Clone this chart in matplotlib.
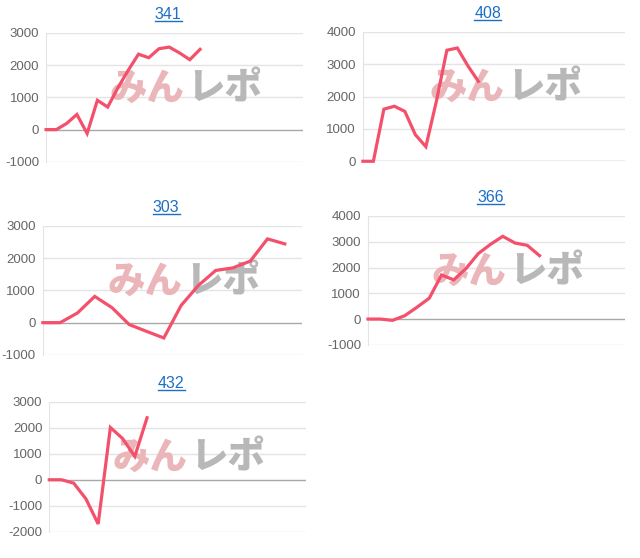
import numpy as np
import matplotlib
matplotlib.use('Agg')
import matplotlib.pyplot as plt
from matplotlib.lines import Line2D

plt.rcParams['font.family'] = ['Liberation Sans', 'DejaVu Sans']

# data
titles = ['341', '408', '303', '366', '432']
vals_341 = [0, 0, 190, 470, -120, 910, 700, 1300, 1840, 2340, 2230, 2510, 2560, 2380, 2170, 2490]
vals_408 = [0, 0, 1610, 1700, 1540, 820, 450, 1850, 3430, 3500, 2950, 2470]
vals_303 = [0, 0, 300, 815, 465, -60, -270, -475, 535, 1155, 1620, 1700, 1910, 2600, 2445]
vals_366 = [0, 0, -50, 130, 460, 810, 1710, 1520, 1960, 2540, 2900, 3210, 2950, 2860, 2460]
vals_432 = [0, 0, -130, -735, -1700, 2010, 1585, 900, 2385]
series = [vals_341, vals_408, vals_303, vals_366, vals_432]

y_ranges = [(-1000, 3000), (0, 4000), (-1000, 3000), (-1000, 4000), (-2000, 3000)]
x_ranges = [(0, 25), (0, 25), (0, 15), (0, 21), (0, 21)]

# axes boxes in figure fractions [left, bottom, width, height]
boxes = [
    [0.072, 0.710, 0.401, 0.231],
    [0.567, 0.711, 0.410, 0.232],
    [0.067, 0.364, 0.405, 0.231],
    [0.575, 0.382, 0.402, 0.231],
    [0.077, 0.047, 0.401, 0.233],
]

line_color = '#f4506b'
title_color = '#1c6fc6'

fig = plt.figure(figsize=(6.4, 5.58), dpi=100)

title_texts = []
for name, vals, yr, xr, box in zip(titles, series, y_ranges, x_ranges, boxes):
    ax = fig.add_axes(box)
    ax.set_xlim(*xr)
    ax.set_ylim(*yr)
    ticks = np.arange(yr[0], yr[1] + 1, 1000)
    ax.set_yticks(ticks)
    ax.set_yticklabels([str(t) for t in ticks])
    ax.set_xticks([])
    for s in ['top', 'right', 'bottom']:
        ax.spines[s].set_visible(False)
    ax.spines['left'].set_color('#e4e4e4')
    ax.tick_params(axis='y', length=0, pad=5, labelsize=9.5, labelcolor='#666666')
    for t in ticks:
        ax.axhline(t, color='#a8a8a8' if t == 0 else '#e4e4e4', lw=1.0, zorder=1)

    # watermark
    wm = dict(fontsize=27, fontweight='heavy', family=['Noto Sans CJK JP', 'DejaVu Sans'],
              transform=ax.transAxes, va='center', zorder=2)
    ax.text(0.54, 0.57, 'みん', ha='right', color='#ebb6ba', **wm)
    ax.text(0.55, 0.57, 'レポ', ha='left', color='#b8b8b8', **wm)

    ax.plot(np.arange(len(vals)), vals, color=line_color, lw=2.3, zorder=3,
            solid_joinstyle='miter', clip_on=False)

    t = ax.annotate(name, xy=(0.5, 1.0), xycoords='axes fraction',
                    xytext=(-4.5, 13.5), textcoords='offset points',
                    ha='center', va='center', fontsize=11.5, color=title_color)
    title_texts.append(t)

# underline the titles like links
fig.canvas.draw()
inv = fig.transFigure.inverted()
for t in title_texts:
    bb = t.get_window_extent()
    y = bb.y0 + 1
    (x0, y0), (x1, _) = inv.transform([(bb.x0, y), (bb.x1, y)])
    fig.add_artist(Line2D([x0, x1], [y0, y0], color=title_color, lw=1.0))

fig.savefig('out.png', dpi=100)
